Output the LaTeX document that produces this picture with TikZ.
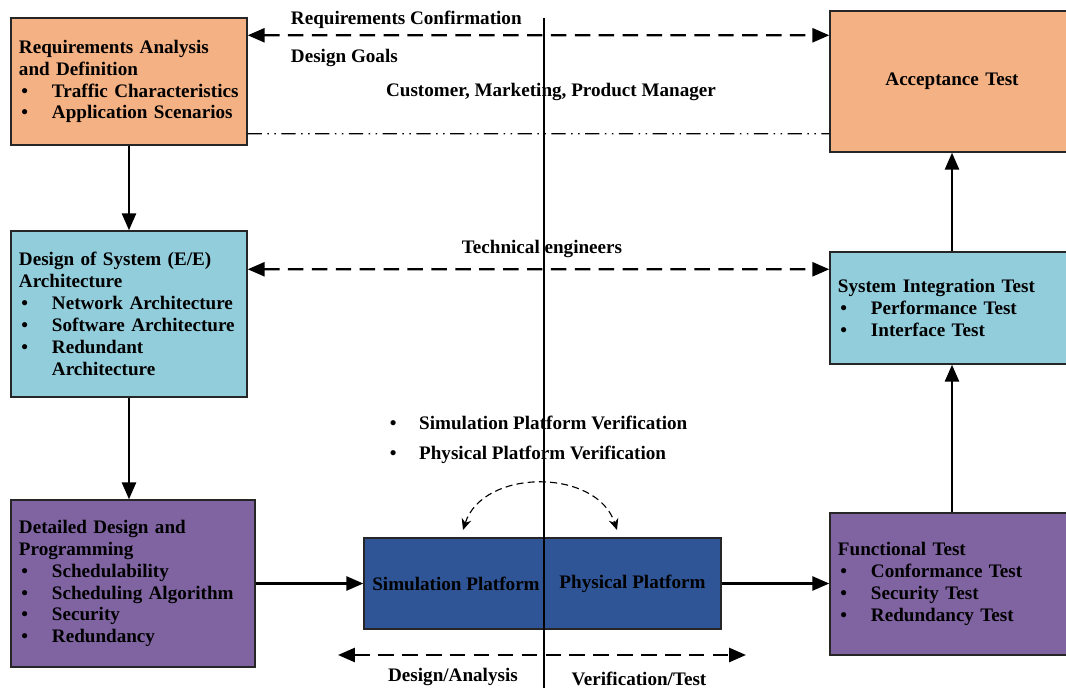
\documentclass[tikz,border=0pt]{standalone}
\usepackage{fontspec}
\setmainfont{Liberation Serif}
\usetikzlibrary{arrows.meta}
\definecolor{reqorange}{HTML}{F4B183}
\definecolor{archblue}{HTML}{92CDDC}
\definecolor{progpurple}{HTML}{8064A2}
\definecolor{platblue}{HTML}{2F5597}
\newcommand{\bitem}[1]{\makebox[0.825cm][l]{\hspace{0.06cm}\textbullet}\mbox{#1}}
\begin{document}
\begin{tikzpicture}[x=0.025cm,y=-0.025cm,
  every node/.style={font=\fontsize{13.6}{15.6}\selectfont\bfseries},
  stagebox/.style={draw=black!85,line width=1pt,inner xsep=0.2cm,inner ysep=0pt,align=left},
  platbox/.style={draw=black!85,line width=1pt,fill=platblue,minimum width=#1,minimum height=2.275cm,inner sep=0pt},
  flow/.style={line width=1.6pt,-{Triangle[length=12pt,width=10pt]}},
  talk/.style={line width=1.6pt,dash pattern=on 11pt off 6pt,{Triangle[length=12pt,width=10pt]}-{Triangle[length=12pt,width=10pt]}}]
\useasboundingbox (0,0) rectangle (1066,688);
% left side: design
\node[stagebox,fill=reqorange,text width=5.5cm,minimum height=3.175cm] (req) at (129,81.5)
  {Requirements Analysis\\and Definition\\\bitem{Traffic Characteristics}\\\bitem{Application Scenarios}};
\node[stagebox,fill=archblue,text width=5.5cm,minimum height=4.15cm] (arch) at (129,314)
  {Design of System (E/E)\\Architecture\\\bitem{Network Architecture}\\\bitem{Software Architecture}\\\bitem{Redundant}\\\hspace*{0.825cm}Architecture};
\node[stagebox,fill=progpurple,text width=5.7cm,minimum height=4.175cm] (prog) at (133,583.5)
  {Detailed Design and\\Programming\\\bitem{Schedulability}\\\bitem{Scheduling Algorithm}\\\bitem{Security}\\\bitem{Redundancy}};
% right side: test
\node[stagebox,fill=reqorange,text width=5.7cm,minimum height=3.525cm,align=center] (accept) at (952,81.5) {Acceptance Test};
\node[stagebox,fill=archblue,text width=5.7cm,minimum height=2.8cm] (integ) at (952,308)
  {System Integration Test\\\bitem{Performance Test}\\\bitem{Interface Test}};
\node[stagebox,fill=progpurple,text width=5.7cm,minimum height=3.55cm] (func) at (952,584)
  {Functional Test\\\bitem{Conformance Test}\\\bitem{Security Test}\\\bitem{Redundancy Test}};
% platforms
\node[platbox=4.5cm] (simplat) at (454,583.5) {};
\node[platbox=4.425cm] (physplat) at (632.5,583.5) {};
\node (simtext) at (456,583.5) {Simulation Platform};
\node (phystext) at (632.5,583.5) {Physical Platform};
\node[align=left,anchor=west] (verif) at (385,440)
  {\makebox[0.73cm][l]{\textbullet}Simulation Platform Verification\\[0.2cm]\makebox[0.73cm][l]{\textbullet}Physical Platform Verification};
% labels
\node[anchor=west] (confirm) at (286,20) {Requirements Confirmation};
\node[anchor=west] (goals) at (286,58) {Design Goals};
\node (customer) at (551,92) {Customer, Marketing, Product Manager};
\node (engineers) at (542,249) {Technical engineers};
\node (designlab) at (453,677) {Design/Analysis};
\node (verlab) at (639,679) {Verification/Test};
% divider
\coordinate (divtop) at (544,18);
\coordinate (divbot) at (544,688);
\draw[line width=0.8pt] (divtop) -- (divbot);
% flow arrows
\draw[flow] (req) -- (arch);
\draw[flow] (arch.south) -- (arch.south |- prog.north);
\draw[flow] (prog) -- (simplat);
\draw[flow] (physplat.east) -- (physplat.east -| func.west);
\draw[flow] (func) -- (integ);
\draw[flow] (integ) -- (accept);
% dashed arrows
\draw[talk] ([yshift=-0.45cm]req.north east) -- ([yshift=-0.625cm]accept.north west);
\draw[talk] ([yshift=-0.975cm]arch.north east) -- ([yshift=-0.45cm]integ.north west);
\draw[line width=1pt,dash pattern=on 10pt off 4pt on 1pt off 4pt on 1pt off 4pt]
  ([yshift=0.3cm]req.south east) -- ([yshift=0.475cm]accept.south west);
\coordinate (leftend) at (338,655);
\coordinate (rightend) at (746,655);
\draw[talk] (leftend) -- (rightend);
\coordinate (arcleft) at (463,530);
\coordinate (arcright) at (617,530);
\draw[line width=0.8pt,dash pattern=on 5pt off 3pt,{Stealth[length=8pt,width=7pt]}-{Stealth[length=8pt,width=7pt]}]
  (arcleft) .. controls (483,468) and (597,468) .. (arcright);
\end{tikzpicture}
\end{document}
